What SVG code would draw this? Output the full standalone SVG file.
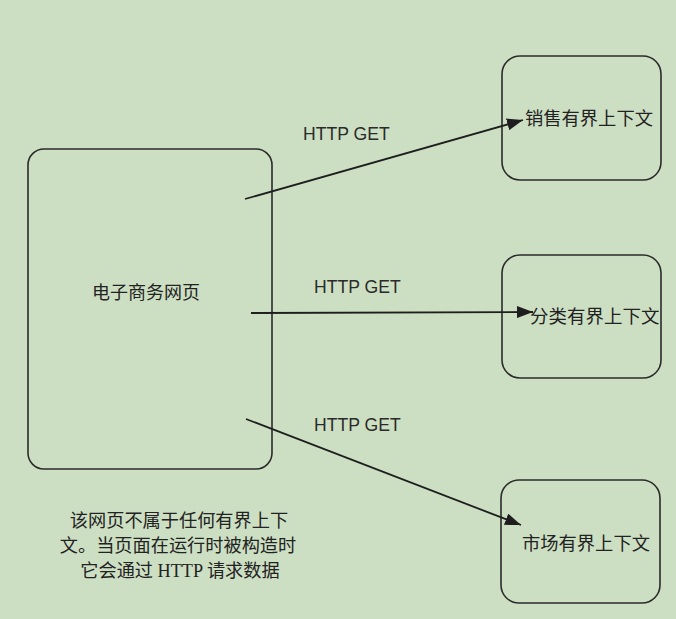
<svg xmlns="http://www.w3.org/2000/svg" width="676" height="619" viewBox="0 0 676 619">
<style>
.box{fill:none;stroke:#2b2b2b;stroke-width:1.6}
.cn{font-family:"Noto Sans CJK SC",sans-serif;font-size:18.3px;fill:#222}
.lbl{font-family:"Liberation Sans","DejaVu Sans",sans-serif;font-size:17.6px;fill:#2a2a2a}
.note{font-family:"Liberation Serif","Noto Sans CJK SC",serif;font-size:18.2px;fill:#222}
.edge{fill:none;stroke:#1e1e1e;stroke-width:1.8}
</style>
<defs>
<marker id="ah" viewBox="0 0 16 12" refX="16" refY="6" markerWidth="16" markerHeight="12" markerUnits="userSpaceOnUse" orient="auto">
<path d="M0,0 L16,6 L0,12 Z" fill="#1e1e1e"/>
</marker>
</defs>
<rect width="676" height="619" fill="#cddfc3"/>
<g id="ecommerce">
<rect class="box" x="28" y="149" width="244" height="320" rx="16"/>
<text class="cn" x="146" y="299" text-anchor="middle" style="font-size:18px">电子商务网页</text>
</g>
<g id="sales">
<rect class="box" x="502" y="56" width="159" height="124" rx="18"/>
<text class="cn" x="525" y="125">销售有界上下文</text>
</g>
<g id="catalog">
<rect class="box" x="502" y="255" width="159" height="123" rx="18"/>
<text class="cn" x="530" y="323" style="font-size:18.5px">分类有界上下文</text>
</g>
<g id="marketing">
<rect class="box" x="501" y="480" width="159" height="123" rx="18"/>
<text class="cn" x="522" y="550">市场有界上下文</text>
</g>
<g id="connectors">
<path class="edge" d="M245,199 L523,120" marker-end="url(#ah)"/>
<path class="edge" d="M251,313 L533,312" marker-end="url(#ah)"/>
<path class="edge" d="M246,419 L521,525" marker-end="url(#ah)"/>
<text class="lbl" x="303" y="140">HTTP GET</text>
<text class="lbl" x="314" y="293">HTTP GET</text>
<text class="lbl" x="314" y="431">HTTP GET</text>
</g>
<g id="note">
<text class="note" x="179" y="527" text-anchor="middle">该网页不属于任何有界上下</text>
<text class="note" x="178" y="552" text-anchor="middle">文。当页面在运行时被构造时</text>
<text class="note" x="180" y="577" text-anchor="middle">它会通过 HTTP 请求数据</text>
</g>
</svg>
